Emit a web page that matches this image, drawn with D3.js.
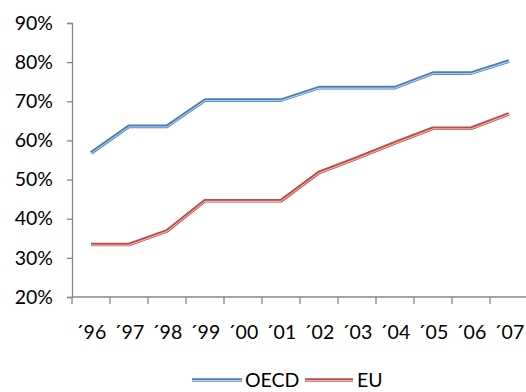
<!DOCTYPE html>
<html>
<head>
<meta charset="utf-8">
<script src="https://cdn.jsdelivr.net/npm/d3@7"></script>
<style>
  html, body { margin: 0; padding: 0; background: #fff; }
  svg { display: block; }
  text { font-family: Lato, "Open Sans", sans-serif; fill: #000; }
</style>
</head>
<body>
<svg id="chart" width="526" height="392"></svg>
<script>
// Years shown along the horizontal axis
const years = ["´96", "´97", "´98", "´99", "´00", "´01", "´02", "´03", "´04", "´05", "´06", "´07"];
// Share in percent for each year
const oecd = [56.8, 63.6, 63.6, 70.3, 70.3, 70.3, 73.5, 73.5, 73.5, 77.2, 77.2, 80.3];
const eu   = [33.4, 33.4, 36.9, 44.6, 44.6, 44.6, 51.8, 55.5, 59.4, 63.1, 63.1, 66.8];
const seriesNames = ["OECD", "EU"];
const seriesColors = ["#4A7EBB", "#BE4B48"];
const yTicks = [20, 30, 40, 50, 60, 70, 80, 90];

const svg = d3.select("#chart");
const plotLeft = 72, plotRight = 528, plotTop = 23, plotBottom = 297;
const fontSize = 19.5;

const x = d3.scaleBand().domain(years).range([plotLeft, plotRight]);
const y = d3.scaleLinear().domain([20, 90]).range([plotBottom, plotTop]);

const axisColor = "#868686";

// Y axis
const yAxis = svg.append("g")
  .attr("transform", `translate(${plotLeft},0)`)
  .call(d3.axisLeft(y).tickValues(yTicks).tickSize(5).tickPadding(14).tickFormat(d => d + "%"));
yAxis.select(".domain").attr("stroke", axisColor).attr("stroke-width", 1.3);
yAxis.selectAll(".tick line").attr("stroke", axisColor).attr("stroke-width", 1.3);
yAxis.selectAll(".tick text").attr("font-size", fontSize).style("font-family", "Lato, sans-serif").attr("fill", "#000");

// X axis: ticks between categories
const xAxisG = svg.append("g").attr("transform", `translate(0,${plotBottom})`);
xAxisG.append("line")
  .attr("x1", plotLeft).attr("x2", plotRight)
  .attr("stroke", axisColor).attr("stroke-width", 1.3);
const boundaries = years.map(d => x(d)).concat([plotRight]);
xAxisG.selectAll("line.tk").data(boundaries).enter().append("line")
  .attr("class", "tk")
  .attr("x1", d => d).attr("x2", d => d)
  .attr("y1", 0).attr("y2", 7)
  .attr("stroke", axisColor).attr("stroke-width", 1.3);
xAxisG.selectAll("text").data(years).enter().append("text")
  .attr("x", d => x(d) + x.bandwidth() / 2)
  .attr("y", 42)
  .attr("text-anchor", "middle")
  .attr("font-size", fontSize)
  .text(d => d);

// Lines drawn in a double style: colored band with a pale core
const line = d3.line()
  .x((d, i) => x(years[i]) + x.bandwidth() / 2)
  .y(d => y(d));

[oecd, eu].forEach((vals, k) => {
  svg.append("path").datum(vals)
    .attr("d", line).attr("fill", "none")
    .attr("stroke", seriesColors[k]).attr("stroke-width", 3.6)
    .attr("stroke-linejoin", "round");
  svg.append("path").datum(vals)
    .attr("d", line).attr("fill", "none")
    .attr("stroke", "#fff").attr("stroke-opacity", 0.7).attr("stroke-width", 1)
    .attr("transform", "translate(0,0.6)")
    .attr("stroke-linejoin", "round");
});

// Legend
const legend = svg.append("g").attr("transform", "translate(0,380)");
const legendItems = [{ x0: 192, x1: 242, tx: 245 }, { x0: 305, x1: 353, tx: 357 }];
seriesNames.forEach((name, k) => {
  const it = legendItems[k];
  legend.append("line").attr("x1", it.x0).attr("x2", it.x1).attr("y1", 0).attr("y2", 0)
    .attr("stroke", seriesColors[k]).attr("stroke-width", 3.6);
  legend.append("line").attr("x1", it.x0).attr("x2", it.x1).attr("y1", 0.6).attr("y2", 0.6)
    .attr("stroke", "#fff").attr("stroke-opacity", 0.7).attr("stroke-width", 1);
  legend.append("text").attr("x", it.tx).attr("y", 0).attr("dy", "0.36em")
    .attr("font-size", fontSize).text(name);
});
</script>
</body>
</html>
